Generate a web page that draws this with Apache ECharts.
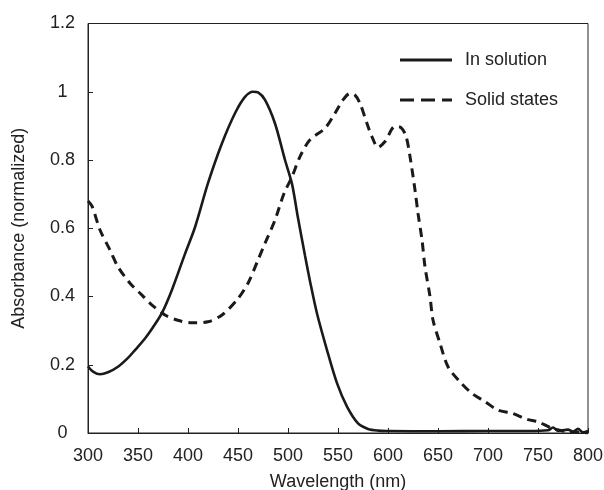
<!DOCTYPE html>
<html>
<head>
<meta charset="utf-8">
<script src="https://cdn.jsdelivr.net/npm/echarts@6/dist/echarts.min.js"></script>
<style>html,body{margin:0;padding:0;background:#fff}#c{width:604px;height:490px}</style>
</head>
<body>
<div id="c"></div>
<script>
var xTicks = [300, 350, 400, 450, 500, 550, 600, 650, 700, 750, 800];
var yTicks = [0, 0.2, 0.4, 0.6, 0.8, 1, 1.2];

var solutionX = [300,305,312,320,330,340,347,357,365,374,384,397,407,420,434,447,457,465,470,477,487,497,504,510,517,522,529,539,549,559,570,580,590,600,650,700,740,760,765,770,780,785,790,795,800];
var solutionY = [0.195,0.18,0.172,0.178,0.194,0.22,0.243,0.277,0.31,0.352,0.42,0.525,0.603,0.732,0.849,0.937,0.985,1.0,0.998,0.976,0.907,0.80,0.73,0.63,0.52,0.445,0.35,0.243,0.146,0.077,0.028,0.012,0.007,0.006,0.005,0.006,0.006,0.008,0.016,0.006,0.01,0.004,0.012,0.002,0.006];

var solidX = [300,304,312,322,330,342,354,364,377,389,404,420,434,449,460,470,477,487,496,504,512,522,537,547,555,562,567,572,579,584,590,597,607,613,618,622,627,630,634,637,642,645,652,660,672,684,697,710,724,739,750,764,779,790,800];
var solidY = [0.68,0.665,0.595,0.536,0.487,0.439,0.404,0.375,0.346,0.331,0.323,0.326,0.346,0.39,0.439,0.507,0.556,0.624,0.702,0.751,0.81,0.859,0.893,0.937,0.976,0.995,0.99,0.966,0.907,0.868,0.837,0.854,0.898,0.895,0.87,0.81,0.712,0.644,0.566,0.487,0.40,0.331,0.263,0.194,0.15,0.116,0.092,0.067,0.058,0.04,0.033,0.014,0.004,0.002,0.0];

var seriesNames = ['In solution', 'Solid states'];

function pairs(xs, ys) { return xs.map(function (x, i) { return [x, ys[i]]; }); }

var FONT = 'Liberation Sans, Arial, sans-serif';
var INK = '#222';
var LINE = '#1a1a1a';

var chart = echarts.init(document.getElementById('c'), null, {renderer: 'canvas'});
chart.setOption({
  animation: false,
  backgroundColor: '#fff',
  textStyle: {fontFamily: FONT, color: INK},
  grid: {left: 88, right: 16, top: 23.5, bottom: 57, containLabel: false, outerBoundsMode: 'none',
    show: true, borderColor: INK, borderWidth: 1, backgroundColor: 'transparent'},
  legend: {
    orient: 'vertical', left: 395, top: 45, itemWidth: 52, itemHeight: 3, itemGap: 20,
    textStyle: {fontFamily: FONT, fontSize: 18, color: INK, lineHeight: 20, padding: [0, 0, 0, 8]},
    data: [
      {name: seriesNames[0], icon: 'path://M0,0h52v3h-52z', itemStyle: {color: LINE}},
      {name: seriesNames[1], icon: 'path://M0,0h14v3h-14zM21,0h14v3h-14zM42,0h10v3h-10z', itemStyle: {color: LINE}}
    ]
  },
  xAxis: {
    type: 'value', min: xTicks[0], max: xTicks[xTicks.length - 1], interval: 50,
    name: 'Wavelength (nm)', nameLocation: 'middle', nameGap: 40,
    nameTextStyle: {fontFamily: FONT, fontSize: 18, color: INK},
    axisLine: {show: true, lineStyle: {color: INK, width: 1}},
    axisTick: {show: true, inside: true, length: 5, lineStyle: {color: INK}},
    axisLabel: {fontFamily: FONT, fontSize: 18, color: INK, margin: 14},
    splitLine: {show: false}
  },
  yAxis: {
    type: 'value', min: yTicks[0], max: yTicks[yTicks.length - 1], interval: 0.2,
    name: 'Absorbance (normalized)', nameLocation: 'middle', nameGap: 60,
    nameTextStyle: {fontFamily: FONT, fontSize: 18, color: INK},
    axisLine: {show: true, lineStyle: {color: INK, width: 1}},
    axisTick: {show: true, inside: true, length: 5, lineStyle: {color: INK}},
    axisLabel: {fontFamily: FONT, fontSize: 18, color: INK, margin: 25.5, align: 'center'},
    splitLine: {show: false}
  },
  series: [
    {
      name: seriesNames[0], type: 'line', data: pairs(solutionX, solutionY),
      showSymbol: false, symbol: 'none', smooth: 0.3,
      lineStyle: {color: LINE, width: 2.6, type: 'solid'},
      itemStyle: {color: LINE}
    },
    {
      name: seriesNames[1], type: 'line', data: pairs(solidX, solidY),
      showSymbol: false, symbol: 'none', smooth: 0.3,
      lineStyle: {color: LINE, width: 3, type: [9, 6]},
      itemStyle: {color: LINE}
    }
  ]
});
</script>
</body>
</html>
